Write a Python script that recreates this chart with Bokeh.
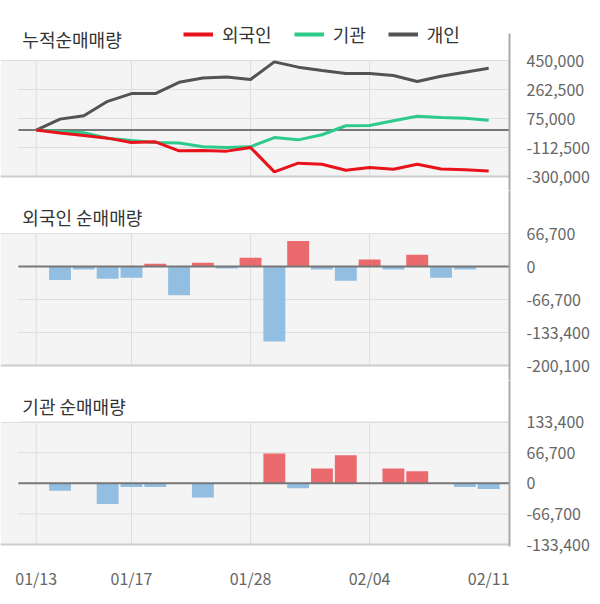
from bokeh.plotting import figure
from bokeh.layouts import column
from bokeh.models import (Range1d, FixedTicker, NumeralTickFormatter, BoxAnnotation,
                          Label, Legend, LegendItem, ColumnDataSource)
from bokeh.embed import file_html
from bokeh.resources import INLINE

# ---------------- data ----------------
dates = ["01/13", "01/14", "01/15", "01/16", "01/17", "01/20", "01/21", "01/22", "01/23", "01/28",
         "01/29", "01/30", "01/31", "02/03", "02/04", "02/05", "02/06", "02/07", "02/10", "02/11"]
xtick_idx = [0, 4, 9, 14, 19]
vgrid_idx = [0, 4, 9, 14]

foreign_cum = [0, -19000, -35000, -52000, -80000, -76000, -134000, -132000, -136000, -112000,
               -270000, -214000, -221000, -260000, -242000, -253000, -221000, -251000, -257000, -264000]
inst_cum = [0, -9000, -17000, -52000, -67000, -80000, -84000, -108000, -112000, -108000,
            -48000, -63000, -30000, 28000, 30000, 61000, 89000, 82000, 76000, 63000]
indiv_cum = [0, 71000, 93000, 186000, 236000, 236000, 309000, 337000, 344000, 327000,
             441000, 407000, 385000, 366000, 366000, 353000, 314000, 348000, 374000, 400000]

foreign_daily = [0, -27400, -6200, -24600, -22600, 5500, -58100, 7500, -4100, 17800,
                 -151800, 51300, -6200, -28700, 14400, -6200, 23900, -22600, -6200, 0]
inst_daily = [0, -16400, 0, -45100, -8200, -8200, 0, -30700, 0, 0,
              64900, -10900, 32100, 60800, 0, 32100, 26000, 0, -8200, -12300]

top_ticks = [450000, 262500, 75000, -112500, -300000]
mid_ticks = [66700, 0, -66700, -133400, -200100]
bot_ticks = [133400, 66700, 0, -66700, -133400]

titles = ["누적순매매량", "외국인 순매매량", "기관 순매매량"]
legend_labels = ["외국인", "기관", "개인"]

# ---------------- style ----------------
FONT = "Noto Sans CJK KR"
RED_LINE = "#E8131B"
GREEN_LINE = "#2DCB8B"
GRAY_LINE = "#535353"
RED_BAR = "#EB6A6E"
BLUE_BAR = "#92BEE1"
PANEL_BG = "#F4F4F4"
GRID = "#DEDEDE"
ZERO = "#777777"
AXIS = "#AAAAAA"
LABEL = "#666666"

idx = list(range(len(dates)))

FRAME_L, FRAME_R = 0, 513          # page px
X0_PAGE, DX = 36, 24               # page x of index 0, px per index
RIGHT_BORDER = 79
x_start = -(X0_PAGE - FRAME_L) / DX
x_end = x_start + (FRAME_R - FRAME_L) / DX
x_line0 = (18 - X0_PAGE) / DX      # where reference lines begin


def make_panel(frame_top, frame_bot, y_top_px, v_top, y_bot_px, v_bot, border_top, border_bot, xaxis):
    u = (v_top - v_bot) / (y_bot_px - y_top_px)
    start = v_bot - (frame_bot - y_bot_px) * u
    end = v_top + (y_top_px - frame_top) * u
    h = (frame_bot - frame_top) + border_top + border_bot
    p = figure(width=(FRAME_R - FRAME_L) + RIGHT_BORDER, height=h,
               x_range=Range1d(x_start, x_end), y_range=Range1d(start, end),
               output_backend="svg", toolbar_location=None,
               y_axis_location="right", x_axis_location="below" if xaxis else None,
               min_border_left=0, min_border_right=RIGHT_BORDER,
               min_border_top=border_top, min_border_bottom=border_bot)
    p.outline_line_color = None
    p.background_fill_color = "white"
    p.border_fill_color = "white"
    p.xgrid.visible = False
    p.ygrid.visible = False

    def ydata(page_y):
        return v_top - (page_y - y_top_px) * u

    p.add_layout(BoxAnnotation(bottom=v_bot, top=v_top, fill_color=PANEL_BG, fill_alpha=1.0,
                               line_color=None, level="underlay"))
    return p, ydata, start


def style_yaxis(p, ticks):
    ax = p.yaxis[0]
    ax.ticker = FixedTicker(ticks=ticks)
    ax.formatter = NumeralTickFormatter(format="0,0")
    ax.axis_line_color = AXIS
    ax.axis_line_width = 2
    ax.major_tick_line_color = None
    ax.minor_tick_line_color = None
    ax.major_label_standoff = 11
    ax.major_label_text_font = FONT
    ax.major_label_text_font_size = "16px"
    ax.major_label_text_color = LABEL
    return ax


def add_grids(p, ticks, v_top, v_bot):
    n = len(ticks)
    p.segment(x0=[x_line0] * n, y0=ticks, x1=[x_end] * n, y1=ticks, line_color=GRID, line_width=1)
    p.hspan(y=[v_top], line_color=GRID, line_width=1)
    p.segment(x0=vgrid_idx, y0=[v_bot] * len(vgrid_idx), x1=vgrid_idx, y1=[v_top] * len(vgrid_idx),
              line_color=GRID, line_width=1)
    p.hspan(y=[v_bot], line_color="#CCCCCC", line_width=2)


def add_zero(p):
    p.segment(x0=[x_line0], y0=[0], x1=[x_end], y1=[0], line_color=ZERO, line_width=2)


def add_title(p, text, ydata, page_y):
    p.add_layout(Label(x=(22 - X0_PAGE) / DX, y=ydata(page_y), text=text, text_font=FONT,
                       text_font_size="18px", text_color="#333333", text_baseline="middle"))


# ---------- top panel: cumulative ----------
TOP_FRAME = 20
p1, yd1, s1 = make_panel(TOP_FRAME, 190, 60, top_ticks[0], 176, top_ticks[-1], TOP_FRAME, 0, False)
add_grids(p1, top_ticks, top_ticks[0], top_ticks[-1])
add_zero(p1)
r_ind = p1.line(idx, indiv_cum, line_color=GRAY_LINE, line_width=3)
r_ins = p1.line(idx, inst_cum, line_color=GREEN_LINE, line_width=3)
r_for = p1.line(idx, foreign_cum, line_color=RED_LINE, line_width=3)
ax1 = style_yaxis(p1, top_ticks)
ax1.bounds = (s1, yd1(33))
add_title(p1, titles[0], yd1, 38)

nan = float("nan")
lg_for = p1.line([0], [nan], line_color=RED_LINE, line_width=4)
lg_ins = p1.line([0], [nan], line_color=GREEN_LINE, line_width=4)
lg_ind = p1.line([0], [nan], line_color=GRAY_LINE, line_width=4)
legend = Legend(items=[LegendItem(label=legend_labels[0], renderers=[lg_for]),
                       LegendItem(label=legend_labels[1], renderers=[lg_ins]),
                       LegendItem(label=legend_labels[2], renderers=[lg_ind])],
                orientation="horizontal", location=(183 - FRAME_L, 190 - 47),
                border_line_color=None, background_fill_alpha=0, padding=0, margin=0,
                spacing=22, glyph_width=30, glyph_height=22, label_height=22, label_standoff=9,
                label_text_font=FONT, label_text_font_size="18px", label_text_color="#333333")
p1.add_layout(legend, "center")

# ---------- middle panel: foreign daily ----------
p2, yd2, _ = make_panel(190, 380, 233, mid_ticks[0], 365, mid_ticks[-1], 0, 0, False)
add_grids(p2, mid_ticks, mid_ticks[0], mid_ticks[-1])
src2 = ColumnDataSource(dict(x=idx, top=foreign_daily,
                             color=[RED_BAR if v > 0 else BLUE_BAR for v in foreign_daily]))
p2.vbar(x="x", top="top", bottom=0, width=0.92, fill_color="color", line_color=None, source=src2)
add_zero(p2)
style_yaxis(p2, mid_ticks)
add_title(p2, titles[1], yd2, 216)

# ---------- bottom panel: institution daily ----------
p3, yd3, _ = make_panel(380, 556, 424, bot_ticks[0], 554, bot_ticks[-1], 0, 36, True)
add_grids(p3, bot_ticks, bot_ticks[0], bot_ticks[-1])
src3 = ColumnDataSource(dict(x=idx, top=inst_daily,
                             color=[RED_BAR if v > 0 else BLUE_BAR for v in inst_daily]))
p3.vbar(x="x", top="top", bottom=0, width=0.92, fill_color="color", line_color=None, source=src3)
add_zero(p3)
style_yaxis(p3, bot_ticks)
add_title(p3, titles[2], yd3, 407)

xa = p3.xaxis[0]
xa.ticker = FixedTicker(ticks=xtick_idx)
xa.major_label_overrides = {i: dates[i] for i in xtick_idx}
xa.axis_line_color = None
xa.major_tick_line_color = None
xa.minor_tick_line_color = None
xa.major_label_standoff = 13
xa.major_label_text_font = FONT
xa.major_label_text_font_size = "16px"
xa.major_label_text_color = LABEL

layout = column(p1, p2, p3, spacing=0)
open("out.html", "w").write(file_html(layout, INLINE))
